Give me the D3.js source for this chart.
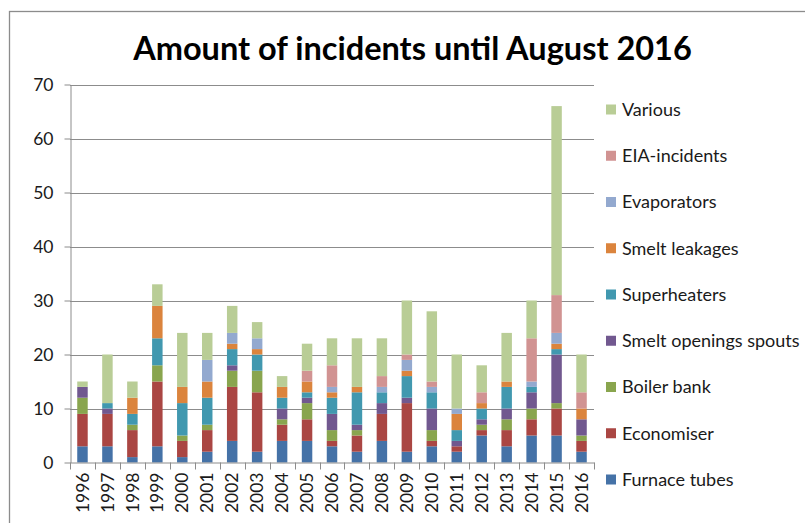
<!DOCTYPE html>
<html>
<head>
<meta charset="utf-8">
<script src="https://cdn.jsdelivr.net/npm/d3@7"></script>
<style>
  html, body { margin: 0; padding: 0; background: #fff; }
  svg { display: block; font-family: Lato, "Open Sans", sans-serif; }
</style>
</head>
<body>
<svg id="chart" width="805" height="523"></svg>
<script>
// Incidents per year, split by cause
const years = ["1996","1997","1998","1999","2000","2001","2002","2003","2004","2005","2006",
               "2007","2008","2009","2010","2011","2012","2013","2014","2015","2016"];

const furnaceTubes        = [3, 3, 1, 3, 1, 2, 4, 2, 4, 4, 3, 2, 4, 2, 3, 2, 5, 3, 5, 5, 2];
const economiser          = [6, 6, 5, 12, 3, 4, 10, 11, 3, 4, 1, 3, 5, 9, 1, 1, 1, 3, 3, 5, 2];
const boilerBank          = [3, 0, 1, 3, 1, 1, 3, 4, 1, 3, 2, 1, 0, 0, 2, 0, 1, 2, 2, 1, 1];
const smeltOpeningsSpouts = [2, 1, 0, 0, 0, 0, 1, 0, 2, 1, 3, 1, 2, 1, 4, 1, 1, 2, 3, 9, 3];
const superheaters        = [0, 1, 2, 5, 6, 5, 3, 3, 2, 1, 3, 6, 2, 4, 3, 2, 2, 4, 1, 1, 0];
const smeltLeakages       = [0, 0, 3, 6, 3, 3, 1, 1, 2, 2, 1, 1, 0, 1, 0, 3, 1, 1, 0, 1, 2];
const evaporators         = [0, 0, 0, 0, 0, 4, 2, 2, 0, 0, 1, 0, 1, 2, 1, 1, 0, 0, 1, 2, 0];
const eiaIncidents        = [0, 0, 0, 0, 0, 0, 0, 0, 0, 2, 4, 0, 2, 1, 1, 0, 2, 0, 8, 7, 3];
const various             = [1, 9, 3, 4, 10, 5, 5, 3, 2, 5, 5, 9, 7, 10, 13, 10, 5, 9, 7, 35, 7];

const seriesNames = ["Furnace tubes", "Economiser", "Boiler bank", "Smelt openings spouts",
                     "Superheaters", "Smelt leakages", "Evaporators", "EIA-incidents", "Various"];
const seriesValues = [furnaceTubes, economiser, boilerBank, smeltOpeningsSpouts,
                      superheaters, smeltLeakages, evaporators, eiaIncidents, various];
const seriesColors = ["#4572A7", "#AA4643", "#89A54E", "#71588F", "#4198AF",
                      "#DB843D", "#93A9CF", "#D19392", "#B9CD96"];
const yTicks = [0, 10, 20, 30, 40, 50, 60, 70];
const titleText = "Amount of incidents until August 2016";

// Row-per-year table for d3.stack
const table = years.map((y, i) => {
  const row = { year: y };
  seriesNames.forEach((n, s) => { row[n] = seriesValues[s][i]; });
  return row;
});

const svg = d3.select("#chart");

// Chart frame
svg.append("rect")
  .attr("x", 9.5).attr("y", 11.5)
  .attr("width", 820).attr("height", 540)
  .attr("fill", "none").attr("stroke", "#8c8c8c").attr("stroke-width", 1.3);

const plot = { left: 70, right: 594, top: 84.5, bottom: 462.5 };

const x = d3.scaleBand().domain(years).range([plot.left, plot.right]).padding(0);
const y = d3.scaleLinear().domain([0, 70]).range([plot.bottom, plot.top]);
const color = d3.scaleOrdinal().domain(seriesNames).range(seriesColors);

// Gridlines
svg.append("g")
  .selectAll("line")
  .data(yTicks.filter(t => t > 0))
  .join("line")
  .attr("x1", plot.left).attr("x2", plot.right)
  .attr("y1", d => Math.round(y(d)) + 0.5).attr("y2", d => Math.round(y(d)) + 0.5)
  .attr("stroke", "#8c8c8c").attr("stroke-width", 1);

// Stacked bars
const stacked = d3.stack().keys(seriesNames)(table);
const barW = x.step() * 0.42;

svg.append("g")
  .selectAll("g")
  .data(stacked)
  .join("g")
  .attr("fill", d => color(d.key))
  .selectAll("rect")
  .data(d => d.filter(p => p[1] > p[0]))
  .join("rect")
  .attr("x", d => x(d.data.year) + (x.step() - barW) / 2)
  .attr("width", barW)
  .attr("y", d => y(d[1]))
  .attr("height", d => y(d[0]) - y(d[1]));

// Y axis
const yAxis = svg.append("g")
  .attr("transform", `translate(${plot.left + 0.5},0)`)
  .call(d3.axisLeft(y).tickValues(yTicks).tickSize(6).tickPadding(11).tickSizeOuter(0));
yAxis.select(".domain").attr("stroke", "#8c8c8c");
yAxis.selectAll(".tick line").attr("stroke", "#8c8c8c");
yAxis.selectAll(".tick text")
  .attr("font-size", 17.5).attr("fill", "#1a1a1a")
  .style("font-family", "Lato, sans-serif");

// X axis
const xAxis = svg.append("g")
  .attr("transform", `translate(0,${plot.bottom})`)
  .call(d3.axisBottom(x).tickSize(0).tickSizeOuter(0));
xAxis.select(".domain").attr("stroke", "#8c8c8c");
// category separator ticks
xAxis.append("g")
  .selectAll("line")
  .data(years.map(yr => x(yr)).concat([x(years[years.length - 1]) + x.step()]))
  .join("line")
  .attr("x1", d => Math.round(d) + 0.5).attr("x2", d => Math.round(d) + 0.5)
  .attr("y1", 0).attr("y2", 7)
  .attr("stroke", "#8c8c8c");
xAxis.selectAll(".tick text")
  .attr("transform", "rotate(-90)")
  .attr("text-anchor", "end")
  .attr("x", -10).attr("y", 0).attr("dy", "0.35em")
  .attr("font-size", 17.5).attr("fill", "#1a1a1a")
  .style("font-family", "Lato, sans-serif");

// Title
const title = svg.append("text")
  .attr("x", 412.5).attr("y", 60)
  .attr("text-anchor", "middle")
  .attr("font-weight", "bold")
  .attr("font-size", 30)
  .attr("fill", "#000")
  .style("font-family", "Lato, sans-serif")
  .text(titleText);
const tw = title.node().getComputedTextLength();
title.attr("font-size", 30 * 559 / tw);

// Legend (top = last series)
const legend = svg.append("g");
const legendItems = seriesNames.slice().reverse();
legendItems.forEach((name, i) => {
  const cy = 109.5 + i * 46.25;
  legend.append("rect")
    .attr("x", 606).attr("y", cy - 5)
    .attr("width", 10).attr("height", 10)
    .attr("fill", color(name));
  legend.append("text")
    .attr("x", 622).attr("y", cy)
    .attr("dy", "0.36em")
    .attr("font-size", 18)
    .attr("fill", "#1a1a1a")
    .text(name);
});
</script>
</body>
</html>
